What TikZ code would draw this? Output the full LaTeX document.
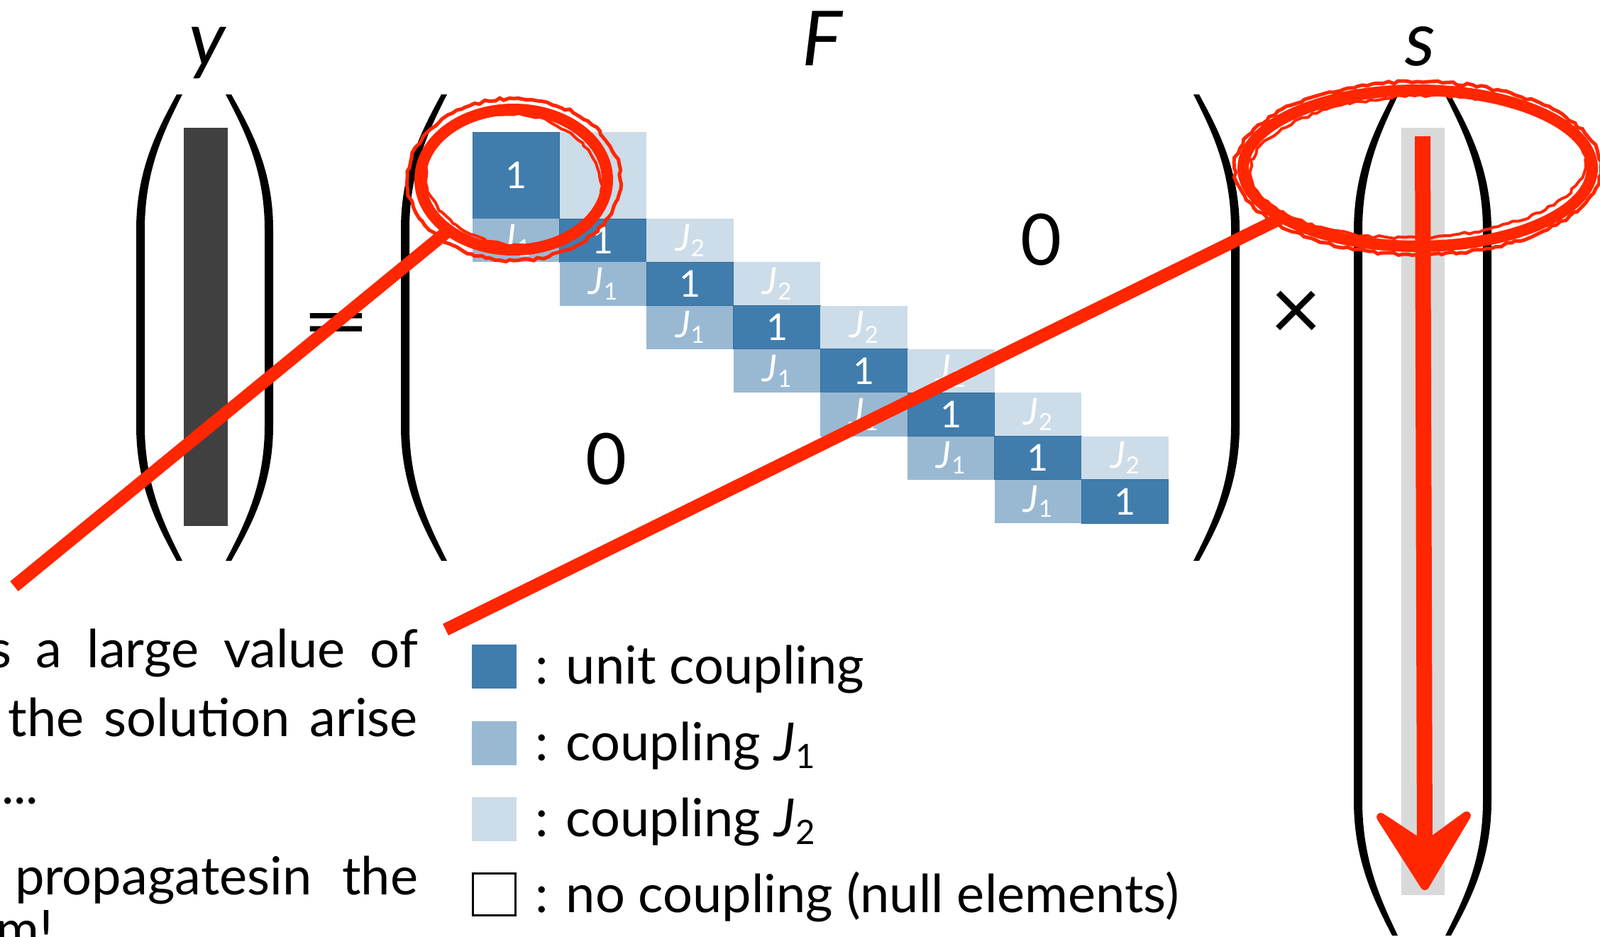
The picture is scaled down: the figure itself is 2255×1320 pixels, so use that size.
\documentclass[tikz,border=0pt]{standalone}
\usepackage{fontspec}
\setmainfont{Lato}
\usepackage{graphicx}
\usetikzlibrary{shapes.geometric,decorations.pathmorphing}
\definecolor{cD}{RGB}{64,125,173}
\definecolor{cM}{RGB}{153,185,211}
\definecolor{cL}{RGB}{204,220,232}
\definecolor{redc}{RGB}{255,38,0}
\definecolor{barc}{RGB}{64,64,64}
\definecolor{sbar}{RGB}{217,217,217}
\newcommand\Jsub[1]{\textit{J}\kern0.01em\raisebox{-0.15em}{\scalebox{0.64}{#1}}}
% paren: xe_out, xm_out, xe_in, xm_in, ytop, ybot, curve length
\newcommand\bparen[7]{%
 \fill (#1,#5) .. controls ({#1-0.45*(#1-#2)},{#5+0.25*#7}) and (#2,{#5+0.55*#7}) .. (#2,{#5+#7})
  -- (#2,{#6-#7}) .. controls (#2,{#6-0.55*#7}) and ({#1-0.45*(#1-#2)},{#6-0.25*#7}) .. (#1,#6)
  -- (#3,#6) .. controls ({#3-0.45*(#3-#4)},{#6-0.25*#7}) and (#4,{#6-0.55*#7}) .. (#4,{#6-#7})
  -- (#4,{#5+#7}) .. controls (#4,{#5+0.55*#7}) and ({#3-0.45*(#3-#4)},{#5+0.25*#7}) .. (#3,#5) -- cycle;}
\begin{document}
\begin{tikzpicture}[x=1pt,y=-1pt,
  cell/.style={inner sep=0, outer sep=0, minimum width=122.6pt, minimum height=61.3pt, text=white, font=\fontsize{52}{60}\selectfont},
  dcell/.style={cell, fill=cD, draw=cD!88!black, line width=1pt},
  mcell/.style={cell, fill=cM},
  lcell/.style={cell, fill=cL},
  txt/.style={inner sep=0, outer sep=0, font=\fontsize{74}{90}\selectfont},
  lab/.style={inner sep=0, outer sep=0, anchor=base, font=\fontsize{107}{120}\selectfont\itshape},
  sym/.style={inner sep=0, outer sep=0, font=\fontsize{100}{110}\selectfont},
  lgsq/.style={inner sep=0, outer sep=0, minimum width=63pt, minimum height=62pt},
  ring/.style={ellipse, draw=redc, line width=16pt, inner sep=0, outer sep=0},
  rough/.style={draw=redc, line width=5pt, decorate, decoration={random steps, segment length=7pt, amplitude=2pt}},
  redline/.style={draw=redc, line width=18pt}]
\useasboundingbox (0,0) rectangle (2255,1320);
\fill[white] (0,0) rectangle (2255,1320);
% vectors
\fill[barc] (259,180) rectangle (321,741);
\fill[sbar] (1975,180) rectangle (2036,1261);
% parentheses
\bparen{249}{192}{257}{204}{133}{790}{190}
\bparen{326}{385}{318}{373}{133}{790}{190}
\bparen{622}{565}{630}{577}{133}{790}{190}
\bparen{1690}{1747}{1682}{1735}{133}{790}{190}
\bparen{1962}{1908}{1970}{1920}{135}{1318}{190}
\bparen{2045}{2102}{2037}{2090}{135}{1318}{190}
% labels
\node[lab] (ly) at (292,92) {y};
\node[lab] (lF) at (1159,92) {F};
\node[lab] (ls) at (2002,92) {s};
\node[sym, font=\fontsize{110}{120}\selectfont] (eq) at (474,466) {\scalebox{1.55}[1]{=}};
\node[sym, font=\fontsize{125}{130}\selectfont] (times) at (1827,445) {×};
\node[sym] (z1) at (1467,338) {0};
\node[sym] (z2) at (854,647) {0};
% matrix cells
\node[dcell, minimum height=122pt] (u-1) at (727.3,247) {1};
\node[lcell, minimum height=122pt] (j2-1) at (849.9,247) {};
\foreach \r in {2,...,8} {
  \pgfmathsetmacro\yy{216.05+61.3*\r}
  \pgfmathsetmacro\xa{604.7+122.6*(\r-1)}
  \pgfmathsetmacro\xb{604.7+122.6*\r}
  \pgfmathsetmacro\xc{604.7+122.6*(\r+1)}
  \node[mcell] (j1-\r) at (\xa,\yy) {\Jsub{1}};
  \node[dcell] (u-\r) at (\xb,\yy) {1};
  \ifnum\r<8 \node[lcell] (j2-\r) at (\xc,\yy) {\Jsub{2}}; \fi
}
% legend
\node[lgsq, fill=cD] (k1) at (696.5,939) {};
\node[lgsq, fill=cM] (k2) at (696.5,1047) {};
\node[lgsq, fill=cL] (k3) at (696.5,1154) {};
\node[lgsq, draw=black, line width=3pt, minimum width=60pt, minimum height=59pt] (k4) at (696.5,1260) {};
\node[txt, anchor=base west] (l1) at (754,963) {: unit coupling};
\node[txt, anchor=base west] (l2) at (754,1071) {: coupling \Jsub{1}};
\node[txt, anchor=base west] (l3) at (754,1178) {: coupling \Jsub{2}};
\node[txt, anchor=base west] (l4) at (754,1285) {: no coupling (null elements)};
% left text
\node[txt, anchor=base west] (t1) at (-16,940) {\makebox[605pt][s]{s a large value of}};
\node[txt, anchor=base west] (t2) at (12,1037) {\makebox[577pt][s]{the solution arise}};
\node[txt, anchor=base west] (t3) at (2,1132) {...};
\node[txt, anchor=base west] (t4) at (21,1260) {\makebox[568pt][s]{propagatesin the}};
\node[txt, anchor=base east] (t5) at (75,1335) {m!};
% red annotations
\node[ring, minimum width=264pt, minimum height=198pt] (c1) at (724,253) {};
\draw[rough] (c1.center) ellipse [x radius=150pt, y radius=114pt];
\draw[rough, line width=4pt, rotate around={-8:(724,253)}] (724,253) ellipse [x radius=124pt, y radius=92pt];
\node[ring, minimum width=492pt, minimum height=220pt] (c2) at (1998,237) {};
\draw[rough] (c2.center) ellipse [x radius=258pt, y radius=122pt];
\draw[rough, line width=4pt, rotate around={2:(1998,237)}] (1998,235) ellipse [x radius=236pt, y radius=100pt];
\coordinate (e1) at (20,826);
\coordinate (e2) at (628,887);
\draw[redline] (e1) -- (c1.218);
\draw[redline] (e2) -- (c2.200);
\coordinate (atop) at (2005,192);
\coordinate (abot) at (2008,1195);
\draw[redc, line width=22pt] (atop) -- (abot);
\filldraw[redc, line width=12pt, line join=round] (1946,1151) -- (2008,1248) -- (2067,1149) -- (2008,1192) -- cycle;
\end{tikzpicture}
\end{document}
